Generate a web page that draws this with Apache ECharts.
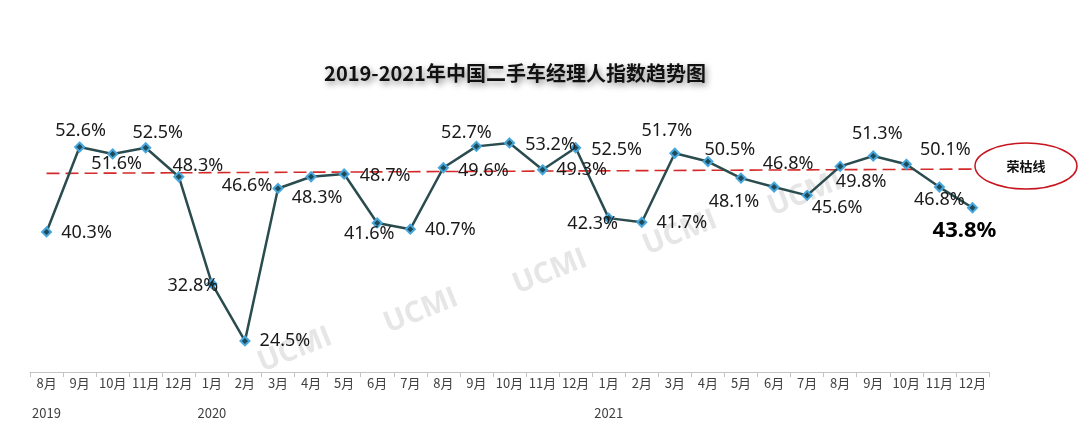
<!DOCTYPE html>
<html>
<head>
<meta charset="utf-8">
<script src="https://cdn.jsdelivr.net/npm/echarts@6/dist/echarts.min.js"></script>
<style>
html,body{margin:0;padding:0;background:#fff;}
#c{width:1080px;height:442px;}
</style>
</head>
<body>
<div id="c"></div>
<script>
// ---- data ----
var months = ['8月','9月','10月','11月','12月','1月','2月','3月','4月','5月','6月','7月','8月','9月','10月','11月','12月','1月','2月','3月','4月','5月','6月','7月','8月','9月','10月','11月','12月'];
var years  = ['2019','','','','','2020','','','','','','','','','','','','2021','','','','','','','','','','',''];
var indexValues = [40.3,52.6,51.6,52.5,48.3,32.8,24.5,46.6,48.3,48.7,41.6,40.7,49.6,52.7,53.2,49.3,52.5,42.3,41.7,51.7,50.5,48.1,46.8,45.6,49.8,51.3,50.1,46.8,43.8];
var boomBustStart = 48.78;   // 荣枯线 as drawn (left end)
var boomBustEnd = 49.41;     // 荣枯线 as drawn (right end)
var title = '2019-2021年中国二手车经理人指数趋势图';
var lineLabel = '荣枯线';
var watermark = 'UCMI';

// label placement (offset of label centre from point, px) - styling only
var labelOffsets = [[40,1],[1,-16],[4,10],[12,-15],[19,-11],[-19,2],[40,0],[-31,-3],[6,21],[41,2],
  [-8,11],[40,1],[40,3],[-10,-13],[41,2],[39,0],[41,2],[-16,6],[40,1],[-8,-22],
  [22,-12],[-7,24],[14,-23],[30,13],[21,15],[4,-22],[39,-14],[0,13],[-8,23]];

var chart = echarts.init(document.getElementById('c'), null, {renderer:'canvas'});

var seriesData = indexValues.map(function(v, i){
  var last = i === indexValues.length - 1;
  return {
    value: v,
    label: {
      show: true,
      position: 'inside',
      offset: labelOffsets[i],
      formatter: function(p){ return p.value.toFixed(1) + '%'; },
      fontFamily: 'Noto Sans, sans-serif',
      fontSize: last ? 22 : 18,
      fontWeight: last ? 'bold' : 'normal',
      color: last ? '#000' : '#1a1a1a'
    }
  };
});

var wmPos = [[295,350],[421,311],[550,272],[680,233],[805,194]];
var graphics = wmPos.map(function(p){
  return {
    type: 'text', x: p[0], y: p[1], rotation: 0.38, z: 0, silent: true,
    style: {text: watermark, fill: '#e6e6e6', font: 'bold 29px "Open Sans", sans-serif', align: 'center', verticalAlign: 'middle'}
  };
});
graphics.push({
  type: 'ellipse', shape: {cx: 1026, cy: 166, rx: 51, ry: 23},
  style: {fill: 'none', stroke: '#c8141e', lineWidth: 1.5}, z: 5
});
graphics.push({
  type: 'text', x: 1026, y: 166, z: 6,
  style: {text: lineLabel, fill: '#111', font: 'bold 13px "Noto Sans CJK SC", sans-serif', align: 'center', verticalAlign: 'middle'}
});

chart.setOption({
  animation: false,
  backgroundColor: '#fff',
  title: {
    text: title, left: 510, top: 58, textAlign: 'center',
    textStyle: {
      fontFamily: '"Noto Sans CJK SC", sans-serif', fontSize: 20, fontWeight: 'bold', color: '#111',
      textShadowColor: 'rgba(0,0,0,0.45)', textShadowBlur: 6, textShadowOffsetX: 2, textShadowOffsetY: 3
    }
  },
  grid: {left: 30, right: 91, top: 96, bottom: 70},
  xAxis: {
    type: 'category', data: months, boundaryGap: true,
    axisLine: {lineStyle: {color: '#c4c4c4', width: 1}},
    axisTick: {show: true, length: 5, lineStyle: {color: '#c4c4c4'}},
    axisLabel: {
      margin: 3, interval: 0,
      formatter: function(v, i){ return years[i] ? '{m|' + v + '}\n{y|' + years[i] + '}' : '{m|' + v + '}'; },
      rich: {
        m: {fontFamily: '"Noto Sans CJK SC", sans-serif', fontSize: 13, color: '#404040', lineHeight: 16},
        y: {fontFamily: '"Noto Sans CJK SC", sans-serif', fontSize: 13, color: '#404040', lineHeight: 44}
      }
    }
  },
  yAxis: {type: 'value', min: 20, max: 60, show: false, splitLine: {show: false}},
  series: [{
    type: 'line', data: seriesData, z: 3,
    symbol: 'diamond', symbolSize: 9,
    lineStyle: {color: '#2b4c4f', width: 2.5},
    itemStyle: {color: '#1f4a58', borderColor: '#47a7dc', borderWidth: 2},
    markLine: {
      silent: true, symbol: 'none', z: 2,
      lineStyle: {color: '#d42a2a', type: [13, 6], width: 1.6},
      label: {show: false},
      data: [[{coord: [0, boomBustStart]}, {coord: [indexValues.length - 1, boomBustEnd]}]]
    }
  }],
  graphic: graphics
});
</script>
</body>
</html>
